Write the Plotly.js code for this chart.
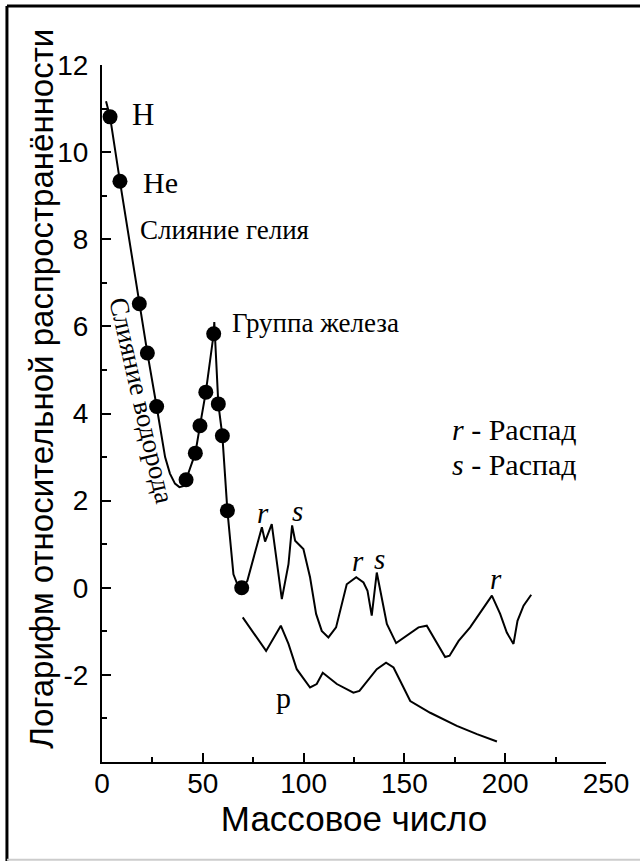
<!DOCTYPE html>
<html>
<head>
<meta charset="utf-8">
<script src="https://cdn.plot.ly/plotly-3.0.1.min.js"></script>
<style>html,body{margin:0;padding:0;background:#fff;}#chart{width:640px;height:861px;}</style>
</head>
<body>
<div id="chart"></div>
<script>
// Main (smooth) curve: light elements and iron group
var mainX = [2, 4, 8.9, 18.5, 22.5, 27.1, 29.6, 31.3, 33.7, 36.2, 38.4, 40.2, 41.7, 46.3, 48.6, 51.5, 55.4, 55.7, 57.7, 59.7, 62.2, 65.2, 66.8, 69.3];
var mainY = [11.17, 10.81, 9.33, 6.52, 5.39, 4.16, 3.46, 3.0, 2.62, 2.39, 2.31, 2.33, 2.48, 3.09, 3.72, 4.49, 5.83, 6.1, 4.22, 3.49, 1.77, 0.31, 0.12, 0.0];

// Measured points (dots)
var dotX = [4, 8.9, 18.5, 22.5, 27.1, 41.7, 46.3, 48.6, 51.5, 55.4, 57.7, 59.7, 62.2, 69.3];
var dotY = [10.81, 9.33, 6.52, 5.39, 4.16, 2.48, 3.09, 3.72, 4.49, 5.83, 4.22, 3.49, 1.77, 0.0];

// r/s process curve
var rsX = [69.3, 72.1, 79.3, 80.9, 84.2, 89.2, 92.5, 94.3, 95.8, 99.9, 103.2, 106.2, 109.0, 112.3, 116.1, 121.4, 126.1, 129.7, 131.7, 133.8, 136.3, 139.6, 141.3, 145.9, 152.9, 157.0, 161.1, 167.7, 170.2, 172.4, 176.9, 182.6, 193.4, 197.5, 200.8, 204.1, 206.1, 209.1, 212.9];
var rsY = [0.0, 0.16, 1.39, 1.06, 1.46, -0.26, 0.54, 1.43, 1.08, 0.89, 0.24, -0.6, -0.99, -1.14, -0.91, 0.08, 0.24, 0.12, -0.07, -0.64, 0.35, -0.38, -0.83, -1.27, -1.03, -0.91, -0.87, -1.37, -1.59, -1.56, -1.22, -0.91, -0.18, -0.6, -1.03, -1.29, -0.76, -0.41, -0.16];

// p process curve
var pX = [69.8, 81.4, 88.7, 92.5, 96.6, 103.2, 106.5, 109.5, 116.5, 124.7, 127.7, 136.3, 140.9, 144.6, 148.7, 152.9, 162.8, 176.0, 186.0, 195.9];
var pY = [-0.68, -1.45, -0.87, -1.29, -1.87, -2.29, -2.21, -1.95, -2.21, -2.41, -2.37, -1.87, -1.72, -1.83, -2.21, -2.6, -2.87, -3.17, -3.36, -3.53];

var xTickVals = [0, 50, 100, 150, 200, 250];
var xTickText = ['0', '50', '100', '150', '200', '250'];
var yTickVals = [-2, 0, 2, 4, 6, 8, 10, 12];
var yTickText = ['-2', '0', '2', '4', '6', '8', '10', '12'];
var yMinorVals = [-3, -1, 1, 3, 5, 7, 9, 11];
var xMinorVals = [25, 75, 125, 175, 225];

var sansFont = "Liberation Sans, Arial, sans-serif";
var serifFont = "Liberation Serif, Times New Roman, serif";

var lineStyle = {color: '#000', width: 2};

var traces = [
  {x: mainX, y: mainY, mode: 'lines', line: lineStyle, hoverinfo: 'skip', showlegend: false},
  {x: rsX, y: rsY, mode: 'lines', line: lineStyle, hoverinfo: 'skip', showlegend: false},
  {x: pX, y: pY, mode: 'lines', line: lineStyle, hoverinfo: 'skip', showlegend: false},
  {x: dotX, y: dotY, mode: 'markers', marker: {color: '#000', size: 15}, hoverinfo: 'skip', showlegend: false}
];

function ann(text, x, y, size, extra) {
  var a = {text: text, x: x, y: y, xref: 'x', yref: 'y', showarrow: false,
           font: {family: serifFont, size: size, color: '#000'}, xanchor: 'center', yanchor: 'middle'};
  if (extra) for (var k in extra) a[k] = extra[k];
  return a;
}

var annotations = [
  ann('H', 20.1, 10.86, 31),
  ann('He', 29.0, 9.31, 30),
  ann('Слияние гелия', 61.0, 8.21, 27),
  ann('Группа железа', 105.7, 6.07, 27),
  ann('Слияние водорода', 19.4, 4.30, 27, {textangle: 77}),
  ann('<i>r</i> - Распад', 204.5, 3.63, 30),
  ann('<i>s</i> - Распад', 204.5, 2.82, 30),
  ann('<i>r</i>', 79.9, 1.72, 29),
  ann('<i>s</i>', 96.8, 1.77, 29),
  ann('<i>r</i>', 127.0, 0.62, 29),
  ann('<i>s</i>', 137.5, 0.67, 29),
  ann('<i>r</i>', 195.5, 0.21, 29),
  ann('p', 89.8, -2.51, 30),
  {text: 'Логарифм относительной распространённости', xref: 'paper', yref: 'paper',
   x: -0.12, y: 0.535, textangle: -90, showarrow: false, xanchor: 'center', yanchor: 'middle',
   font: {family: sansFont, size: 33, color: '#000'}}
];

var layout = {
  width: 640, height: 861,
  margin: {l: 102, r: 34, t: 65, b: 99},
  paper_bgcolor: '#fff', plot_bgcolor: '#fff',
  showlegend: false,
  xaxis: {
    range: [0, 250], tickmode: 'array', tickvals: xTickVals, ticktext: xTickText,
    ticks: 'inside', ticklen: 9, tickwidth: 2, tickcolor: '#000',
    minor: {tickmode: 'array', tickvals: xMinorVals, ticks: 'inside', ticklen: 5, tickwidth: 2, tickcolor: '#000'},
    showline: true, linewidth: 2, linecolor: '#000', mirror: false,
    showgrid: false, zeroline: false,
    tickfont: {family: sansFont, size: 28, color: '#000'},
    ticklabelstandoff: -5,
    title: {text: 'Массовое число', font: {family: sansFont, size: 35, color: '#000'}, standoff: 0}
  },
  yaxis: {
    range: [-4, 12], tickmode: 'array', tickvals: yTickVals, ticktext: yTickText,
    ticks: 'inside', ticklen: 9, tickwidth: 2, tickcolor: '#000',
    minor: {tickmode: 'array', tickvals: yMinorVals, ticks: 'inside', ticklen: 5, tickwidth: 2, tickcolor: '#000'},
    showline: true, linewidth: 2, linecolor: '#000', mirror: false,
    showgrid: false, zeroline: false,
    tickfont: {family: sansFont, size: 28, color: '#000'},
    ticklabelstandoff: 6
  },
  annotations: annotations,
  shapes: [
    {type: 'line', xref: 'paper', yref: 'paper', x0: -0.1886, x1: -0.1886, y0: -0.15, y1: 1.0847, line: {color: '#000', width: 3}},
    {type: 'line', xref: 'paper', yref: 'paper', x0: -0.1886, x1: 1.08, y0: 1.0847, y1: 1.0847, line: {color: '#000', width: 3}},
    {type: 'line', xref: 'paper', yref: 'paper', x0: -0.1886, x1: 1.08, y0: -0.1404, y1: -0.1404, line: {color: '#ccc', width: 2}}
  ]
};

Plotly.newPlot('chart', traces, layout, {staticPlot: true, displayModeBar: false});
</script>
</body>
</html>
